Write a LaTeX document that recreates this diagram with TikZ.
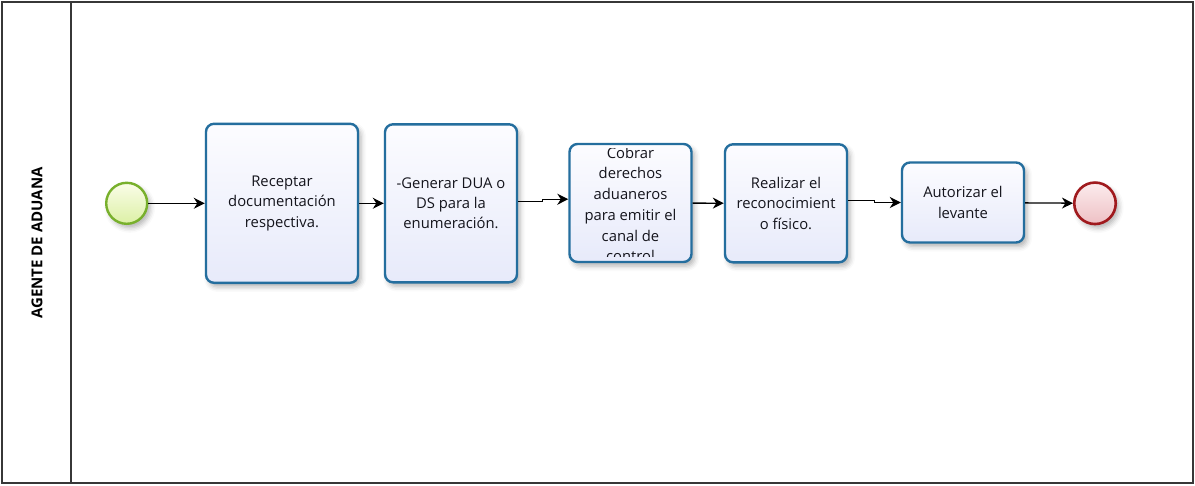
\documentclass[tikz,border=0pt]{standalone}
\usepackage{fontspec}
\setmainfont{Open Sans}
\usetikzlibrary{arrows.meta,shadows.blur}

\definecolor{taskline}{RGB}{36,110,158}
\definecolor{tasktop}{RGB}{252,252,255}
\definecolor{taskbot}{RGB}{231,234,250}
\definecolor{startline}{RGB}{120,176,44}
\definecolor{starttop}{RGB}{250,253,232}
\definecolor{startbot}{RGB}{220,240,165}
\definecolor{endline}{RGB}{160,26,30}
\definecolor{endtop}{RGB}{252,236,237}
\definecolor{endbot}{RGB}{238,192,196}
\definecolor{poolline}{RGB}{55,55,55}
\definecolor{textcol}{RGB}{20,20,28}

\tikzset{
  softshadow/.style={blur shadow={shadow xshift=3pt, shadow yshift=-4pt,
      shadow blur radius=5pt, shadow opacity=30}},
  task/.style={draw=taskline, line width=2.4pt, rounded corners=8pt,
      top color=tasktop, bottom color=taskbot, softshadow,
      inner sep=0pt, align=center, text=textcol,
      font=\fontsize{14.8}{20.2}\selectfont},
  tasktext/.style={inner sep=0pt, align=center, text=textcol,
      font=\fontsize{14.8}{20.7}\selectfont},
  startev/.style={circle, draw=startline, line width=2.4pt,
      top color=starttop, bottom color=startbot, softshadow,
      minimum size=41pt, inner sep=0pt},
  endev/.style={circle, draw=endline, line width=2.6pt,
      top color=endtop, bottom color=endbot, softshadow,
      minimum size=41.5pt, inner sep=0pt},
  flow/.style={line width=1.3pt, black,
      -{Stealth[length=11pt, width=11pt, inset=3.5pt]}},
  pool/.style={draw=poolline, line width=1.4pt},
  lanelabel/.style={rotate=90, text=black,
      font=\bfseries\fontsize{15}{17}\selectfont},
}

\begin{document}
\begin{tikzpicture}[x=1pt, y=-1pt]
  \useasboundingbox (0,0) rectangle (1195,485);

  % pool frame and lane header
  \draw[pool] (2,2) rectangle (1193,483);
  \draw[pool] (71,2) -- (71,483);
  \node[lanelabel] (lane) at (37,243) {AGENTE DE ADUANA};

  % events
  \node[startev] (start) at (126.7,203.3) {};
  \node[endev] (end) at (1095,203.3) {};

  % tasks
  \node[task, minimum width=152pt, minimum height=159pt] (t1) at (282,203.3)
    {Receptar\\documentación\\respectiva.};
  \node[task, minimum width=132pt, minimum height=158pt] (t2) at (451,203.3)
    {-Generar DUA o\\DS para la\\enumeración.};
  \node[task, minimum width=122pt, minimum height=118pt] (t3) at (630.5,203) {};
  \begin{scope}
    % the label overflows its box and is cut at the inner edge
    \clip ([yshift=-5.5pt]t3.north west) rectangle ([yshift=6.5pt]t3.south east);
    \node[tasktext, anchor=north] (t3text) at ([yshift=-4pt]t3.north)
      {Cobrar\\derechos\\aduaneros\\para emitir el\\canal de\\control};
  \end{scope}
  \node[task, minimum width=122pt, minimum height=118pt] (t4) at (786,203.3)
    {Realizar el\\reconocimient\\o físico.};
  \node[task, minimum width=122pt, minimum height=80pt] (t5) at (963,202.5)
    {Autorizar el\\levante};

  % sequence flows
  \draw[flow] (start) -- (t1);
  \draw[flow] (t1) -- (t2);
  \draw[flow] ([yshift=1.5pt]t2.east) -- ++(24,0) |- ([yshift=3.8pt]t3.west);
  \draw[flow] (t3) -- (t4);
  \draw[flow] ([yshift=2.5pt]t4.east) -- ++(26,0) |- (t5.west);
  \draw[flow] (t5) -- (end);
\end{tikzpicture}
\end{document}
